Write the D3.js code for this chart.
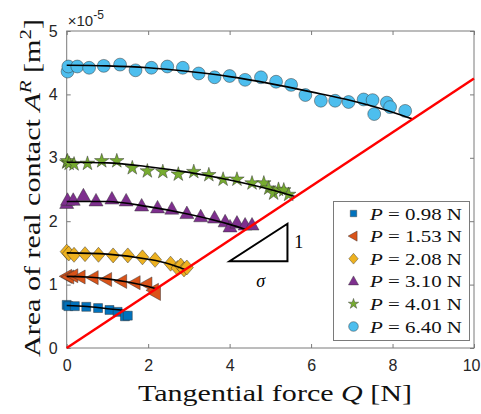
<!DOCTYPE html>
<html><head><meta charset="utf-8">
<script src="https://cdn.jsdelivr.net/npm/d3@7"></script>
<style>body{margin:0;background:#fff}svg{display:block}</style>
</head><body>
<svg id="c" width="481" height="414"></svg>
<script>
// ---- data ----
const pressureLabels = ["0.98", "1.53", "2.08", "3.10", "4.01", "6.40"];
const seriesColors = ["#0072BD", "#D95319", "#EDB120", "#7E2F8E", "#77AC30", "#4DBEEE"];
const seriesShapes = ["square", "triLeft", "diamond", "triUp", "star", "circle"];

const qP098 = [0, 0.04, 0.2, 0.48, 0.77, 1.05, 1.25, 1.43, 1.5];
const aP098 = [0.68, 0.66, 0.66, 0.65, 0.63, 0.60, 0.57, 0.50, 0.51];
const qP153 = [0, 0.05, 0.15, 0.33, 0.65, 0.98, 1.35, 1.68, 1.97, 2.13, 2.18];
const aP153 = [1.13, 1.12, 1.14, 1.12, 1.11, 1.08, 1.05, 1.03, 1.01, 0.91, 0.86];
const qP208 = [0, 0.05, 0.18, 0.45, 0.78, 1.14, 1.5, 1.86, 2.17, 2.55, 2.72, 2.8, 2.88, 2.95];
const aP208 = [1.52, 1.49, 1.47, 1.48, 1.47, 1.46, 1.46, 1.43, 1.39, 1.33, 1.26, 1.30, 1.24, 1.27];
const qP310 = [0, 0.02, 0.16, 0.41, 0.72, 1.11, 1.46, 1.84, 2.23, 2.58, 2.95, 3.29, 3.63, 3.89, 4.01, 4.18, 4.38, 4.55];
const aP310 = [2.28, 2.33, 2.33, 2.40, 2.32, 2.35, 2.32, 2.24, 2.21, 2.19, 2.12, 2.07, 2.05, 1.99, 1.91, 1.97, 1.94, 1.94];
const qP401 = [0, 0.02, 0.06, 0.18, 0.51, 0.86, 1.23, 1.61, 1.98, 2.36, 2.74, 3.12, 3.49, 3.84, 4.18, 4.55, 4.84, 4.96, 5.08, 5.2, 5.33, 5.45];
const aP401 = [2.93, 2.95, 2.91, 2.90, 2.91, 2.95, 2.95, 2.84, 2.79, 2.78, 2.74, 2.78, 2.73, 2.66, 2.66, 2.60, 2.60, 2.52, 2.44, 2.50, 2.49, 2.42];
const qP640 = [0.02, 0.04, 0.26, 0.55, 0.91, 1.31, 1.69, 2.08, 2.47, 2.85, 3.24, 3.63, 4.0, 4.38, 4.77, 5.14, 5.51, 5.86, 6.24, 6.59, 6.92, 7.29, 7.51, 7.55, 7.86, 7.94, 8.31];
const aP640 = [4.36, 4.44, 4.44, 4.42, 4.45, 4.47, 4.38, 4.42, 4.44, 4.42, 4.33, 4.27, 4.29, 4.23, 4.27, 4.20, 4.15, 3.99, 3.90, 3.90, 3.88, 3.92, 3.91, 3.69, 3.87, 3.80, 3.74];

// fitted curves
const fitQ098 = [0, 0.5, 1.0, 1.4];
const fitA098 = [0.67, 0.655, 0.62, 0.595];
const fitQ153 = [0, 0.5, 1.0, 1.5, 2.0, 2.2];
const fitA153 = [1.13, 1.12, 1.09, 1.04, 0.97, 0.935];
const fitQ208 = [0, 1.0, 2.0, 2.5, 2.9];
const fitA208 = [1.50, 1.48, 1.40, 1.33, 1.24];
const fitQ310 = [0, 1.0, 2.0, 3.0, 4.0, 4.4];
const fitA310 = [2.31, 2.31, 2.23, 2.11, 1.95, 1.87];
const fitQ401 = [0, 1.0, 2.0, 3.0, 4.0, 5.0, 5.6];
const fitA401 = [2.93, 2.92, 2.86, 2.77, 2.65, 2.50, 2.39];
const fitQ640 = [0, 1, 2, 3, 4, 5, 6, 7, 8, 8.5];
const fitA640 = [4.46, 4.45, 4.42, 4.36, 4.28, 4.17, 4.04, 3.90, 3.72, 3.61];

const sigmaLineQ = [0, 10];
const sigmaLineA = [0, 4.25];

const xTicks = [0, 2, 4, 6, 8, 10];
const yTicks = [0, 1, 2, 3, 4, 5];

// ---- chart ----
const seriesQ = [qP098, qP153, qP208, qP310, qP401, qP640];
const seriesA = [aP098, aP153, aP208, aP310, aP401, aP640];
const fitQ = [fitQ098, fitQ153, fitQ208, fitQ310, fitQ401, fitQ640];
const fitA = [fitA098, fitA153, fitA208, fitA310, fitA401, fitA640];

const svg = d3.select("#c");
const L = 66.7, R = 474, T = 31, B = 348;
const x = d3.scaleLinear().domain([0, 10]).range([L, R]);
const y = d3.scaleLinear().domain([0, 5]).range([B, T]);
const axisColor = "#7a7a7a";
const tickFont = "'Liberation Sans', Arial, sans-serif";
const serif = "'Liberation Serif', 'DejaVu Serif', serif";

function styleAxis(g, showLabels) {
  g.select(".domain").remove();
  g.selectAll(".tick line").attr("stroke", axisColor);
  g.selectAll(".tick text").attr("fill", "#262626").style("font-family", tickFont).style("font-size", "16px");
  if (!showLabels) g.selectAll(".tick text").remove();
}
svg.append("g").attr("transform", `translate(0,${B})`)
  .call(d3.axisBottom(x).tickValues(xTicks).tickSize(-4).tickPadding(12).tickFormat(d3.format("d")))
  .call(g => styleAxis(g, true))
  .call(g => g.selectAll(".tick text").filter(d => d === 10).attr("text-anchor", "end").attr("dx", 6));
svg.append("g").attr("transform", `translate(0,${T})`)
  .call(d3.axisTop(x).tickValues(xTicks).tickSize(-4))
  .call(g => styleAxis(g, false));
svg.append("g").attr("transform", `translate(${L},0)`)
  .call(d3.axisLeft(y).tickValues(yTicks).tickSize(-4).tickPadding(9).tickFormat(d3.format("d")))
  .call(g => styleAxis(g, true));
svg.append("g").attr("transform", `translate(${R},0)`)
  .call(d3.axisRight(y).tickValues(yTicks).tickSize(-4))
  .call(g => styleAxis(g, false));
svg.append("rect").attr("x", L).attr("y", T).attr("width", R - L).attr("height", B - T)
  .attr("fill", "none").attr("stroke", axisColor).attr("stroke-width", 1);

// exponent label
const ex = svg.append("text").attr("x", L + 1).attr("y", 26)
  .style("font-family", tickFont).style("font-size", "15px").attr("fill", "#262626");
ex.append("tspan").text("×10");
ex.append("tspan").attr("dy", -7).style("font-size", "12px").text("-5");

// marker shapes
function shapePath(kind) {
  switch (kind) {
    case "square": return d3.symbol(d3.symbolSquare, 80)();
    case "circle": return d3.symbol(d3.symbolCircle, 130)();
    case "star": return d3.symbol(d3.symbolStar, 65)();
    case "triUp": return "M0,-7.5L7,5L-7,5Z";
    case "triLeft": return "M-7.5,0L5,-7L5,7Z";
    case "diamond": return "M0,-7.5L6.5,0L0,7.5L-6.5,0Z";
  }
}

const dataG = svg.append("g");
seriesQ.forEach((qs, i) => {
  const pts = qs.map((q, j) => [q, seriesA[i][j]]);
  dataG.append("g").selectAll("path").data(pts).join("path")
    .attr("d", shapePath(seriesShapes[i]))
    .attr("transform", d => `translate(${x(d[0])},${y(d[1])})`)
    .attr("fill", seriesColors[i]).attr("stroke", "#333").attr("stroke-width", 0.6).attr("stroke-opacity", 0.8);
});

const line = d3.line().x(d => x(d[0])).y(d => y(d[1])).curve(d3.curveMonotoneX);
fitQ.forEach((qs, i) => {
  const pts = qs.map((q, j) => [q, fitA[i][j]]);
  svg.append("path").attr("d", line(pts)).attr("fill", "none").attr("stroke", "#000").attr("stroke-width", 1.6);
});

// red sigma line
svg.append("path").attr("d", d3.line().x(d => x(d[0])).y(d => y(d[1]))(sigmaLineQ.map((q, j) => [q, sigmaLineA[j]])))
  .attr("stroke", "#ff0000").attr("stroke-width", 2.5).attr("fill", "none");

// slope triangle
svg.append("path").attr("d", `M${x(4.0)},${y(1.37)}L${x(5.42)},${y(1.37)}L${x(5.42)},${y(1.96)}Z`)
  .attr("fill", "none").attr("stroke", "#000").attr("stroke-width", 2);
svg.append("text").attr("x", x(5.7)).attr("y", y(1.58)).attr("text-anchor", "middle")
  .style("font-family", serif).style("font-size", "18px").text("1");
svg.append("text").attr("x", x(4.76)).attr("y", y(0.97)).attr("text-anchor", "middle")
  .style("font-family", serif).style("font-style", "italic").style("font-size", "18px").text("σ");

// legend
const lg = svg.append("g");
lg.append("rect").attr("x", 333.5).attr("y", 201.5).attr("width", 136).attr("height", 139)
  .attr("fill", "#fff").attr("stroke", axisColor).attr("stroke-width", 1);
pressureLabels.forEach((p, i) => {
  const cy = 213.5 + i * 22.6;
  const sz = seriesShapes[i] === "circle" ? 0.75 : 0.72;
  lg.append("path").attr("d", shapePath(seriesShapes[i]))
    .attr("transform", `translate(353.5,${cy}) scale(${sz})`)
    .attr("fill", seriesColors[i]).attr("stroke", "#333").attr("stroke-width", 0.6);
  const t = lg.append("text").attr("x", 370).attr("y", cy + 6)
    .attr("textLength", 92).attr("lengthAdjust", "spacingAndGlyphs")
    .style("font-family", serif).style("font-size", "17.5px").attr("fill", "#111");
  t.append("tspan").style("font-style", "italic").text("P");
  t.append("tspan").text(" = " + p + " N");
});

// axis titles
const xt = svg.append("text").attr("x", 275).attr("y", 401).attr("text-anchor", "middle")
  .attr("textLength", 274).attr("lengthAdjust", "spacingAndGlyphs")
  .style("font-family", serif).style("font-size", "23px").attr("fill", "#111");
xt.append("tspan").text("Tangential force ");
xt.append("tspan").style("font-style", "italic").text("Q");
xt.append("tspan").text(" [N]");

const yt = svg.append("text").attr("transform", "translate(40,188) rotate(-90)").attr("text-anchor", "middle")
  .attr("textLength", 338).attr("lengthAdjust", "spacingAndGlyphs")
  .style("font-family", serif).style("font-size", "23px").attr("fill", "#111");
yt.append("tspan").text("Area of real contact ");
yt.append("tspan").style("font-style", "italic").text("A");
yt.append("tspan").style("font-style", "italic").style("font-size", "16px").attr("dy", -9).text("R");
yt.append("tspan").attr("dy", 9).text(" [m");
yt.append("tspan").style("font-size", "16px").attr("dy", -9).text("2");
yt.append("tspan").attr("dy", 9).text("]");
</script>
</body></html>
